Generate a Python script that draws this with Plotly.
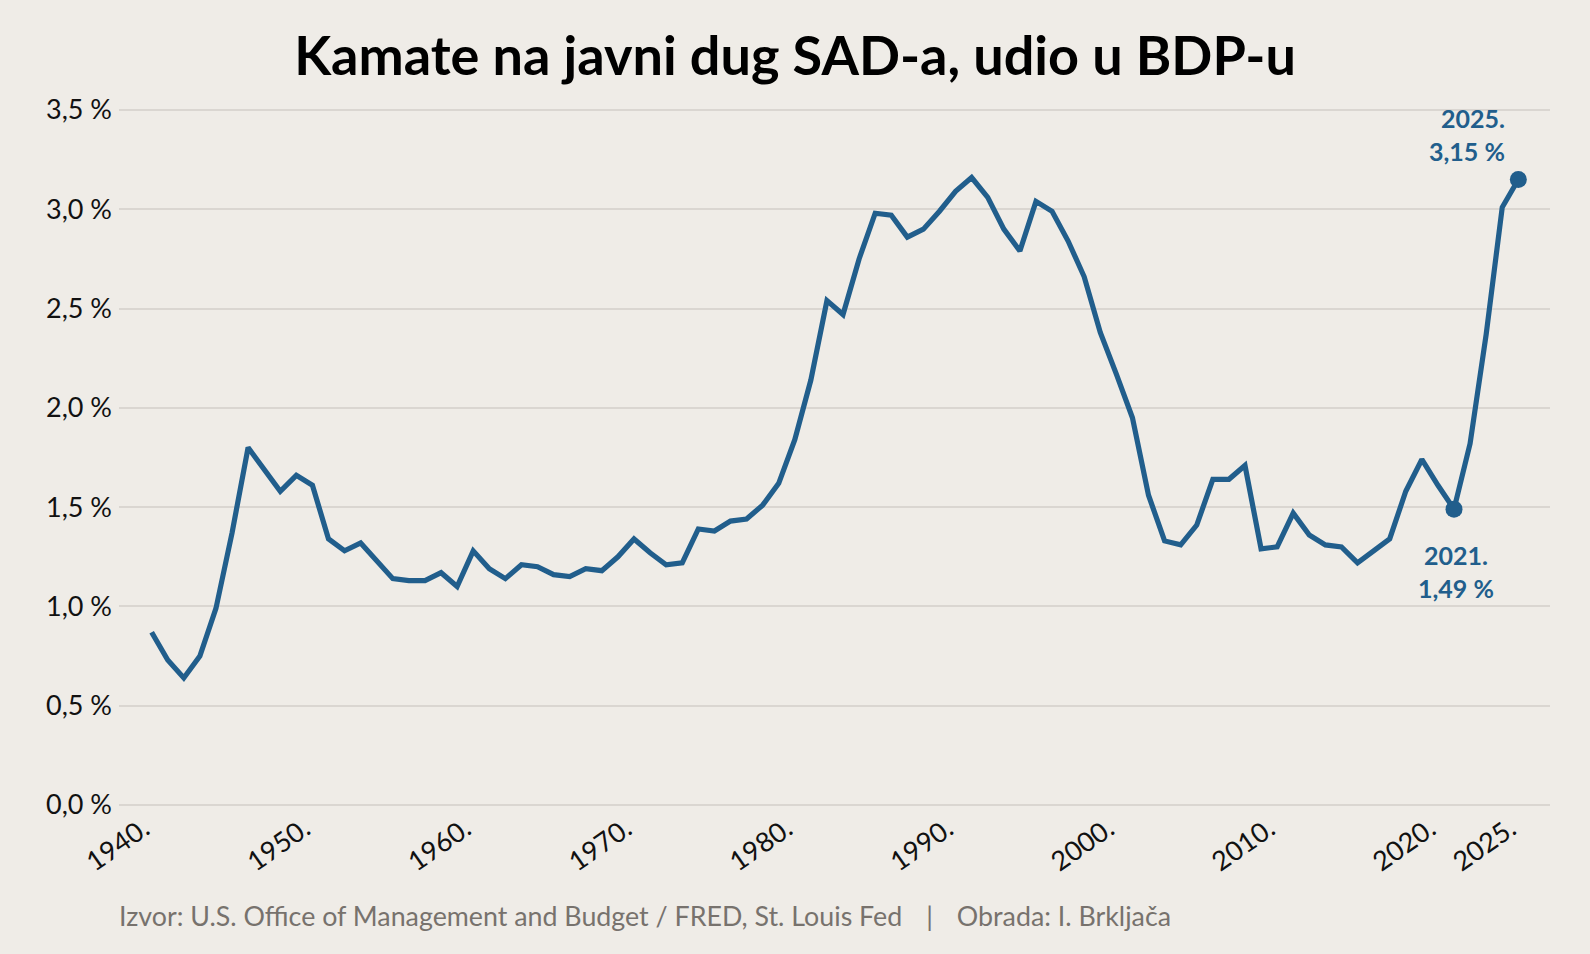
import plotly.graph_objects as go

years = list(range(1940, 2026))
interest_pct_gdp = [
    0.87, 0.73, 0.64, 0.75, 0.99, 1.37, 1.80, 1.69, 1.58, 1.66,
    1.61, 1.34, 1.28, 1.32, 1.23, 1.14, 1.13, 1.13, 1.17, 1.10,
    1.28, 1.19, 1.14, 1.21, 1.20, 1.16, 1.15, 1.19, 1.18, 1.25,
    1.34, 1.27, 1.21, 1.22, 1.39, 1.38, 1.43, 1.44, 1.51, 1.62,
    1.84, 2.14, 2.54, 2.47, 2.75, 2.98, 2.97, 2.86, 2.90, 2.99,
    3.09, 3.16, 3.06, 2.90, 2.79, 3.04, 2.99, 2.84, 2.66, 2.38,
    2.17, 1.95, 1.56, 1.33, 1.31, 1.41, 1.64, 1.64, 1.71, 1.29,
    1.30, 1.47, 1.36, 1.31, 1.30, 1.22, 1.28, 1.34, 1.58, 1.74,
    1.61, 1.49, 1.82, 2.37, 3.01, 3.15,
]

highlight_years = [2021, 2025]
highlight_values = [1.49, 3.15]
highlight_labels = ["2021.<br>1,49 %", "2025.<br>3,15 %"]

y_tickvals = [0, 0.5, 1.0, 1.5, 2.0, 2.5, 3.0, 3.5]
y_ticktext = ["0,0 %", "0,5 %", "1,0 %", "1,5 %", "2,0 %", "2,5 %", "3,0 %", "3,5 %"]
x_tickvals = [1940, 1950, 1960, 1970, 1980, 1990, 2000, 2010, 2020, 2025]
x_ticktext = ["1940.", "1950.", "1960.", "1970.", "1980.", "1990.", "2000.", "2010.", "2020.", "2025."]

title_text = "Kamate na javni dug SAD-a, udio u BDP-u"
source_text = ("Izvor: U.S. Office of Management and Budget / FRED, St. Louis Fed"
               "\u00a0\u00a0\u00a0\u2009|\u00a0\u00a0\u00a0\u2009Obrada: I. Brkljača")

BLUE = "#215e8c"
BG = "#efece7"
GRID = "#dad6d1"

fig = go.Figure()
fig.add_trace(go.Scatter(
    x=years, y=interest_pct_gdp, mode="lines",
    line=dict(color=BLUE, width=5.2),
    hoverinfo="skip", showlegend=False,
))
fig.add_trace(go.Scatter(
    x=highlight_years, y=highlight_values, mode="markers",
    marker=dict(color=BLUE, size=17),
    hoverinfo="skip", showlegend=False, cliponaxis=False,
))

fig.add_annotation(
    x=highlight_years[1], y=highlight_values[1], text=highlight_labels[1],
    xanchor="right", yanchor="bottom", align="right", showarrow=False,
    xshift=-11, yshift=11,
    font=dict(family="Lato", size=25, color=BLUE, weight="bold"),
)
fig.add_annotation(
    x=highlight_years[0], y=highlight_values[0], text=highlight_labels[0],
    xanchor="center", yanchor="top", align="center", showarrow=False,
    xshift=2, yshift=-29,
    font=dict(family="Lato", size=25, color=BLUE, weight="bold"),
)
fig.add_annotation(
    x=0, y=-0.156, xref="paper", yref="paper", text=source_text,
    xanchor="left", yanchor="middle", showarrow=False, xshift=-2,
    font=dict(family="Lato", size=26.8, color="#77726d"),
)

fig.update_layout(
    width=1590, height=954,
    paper_bgcolor=BG, plot_bgcolor=BG,
    margin=dict(l=119, r=40, t=108, b=147),
    title=dict(
        text=title_text, x=0.5, xref="container", xanchor="center",
        y=1 - 56 / 954, yref="container", yanchor="middle",
        font=dict(family="Lato", size=54, color="#000000", weight="bold"),
    ),
    font=dict(family="Lato", color="#111111"),
)
fig.update_xaxes(
    range=[1937.97, 2026.97], tickvals=x_tickvals, ticktext=x_ticktext,
    tickangle=-35, showgrid=False, zeroline=False, showline=False,
    ticks="", ticklabelshift=-8,
    tickfont=dict(family="Lato", size=27, color="#111111"),
)
fig.update_yaxes(
    range=[-0.01, 3.51], tickvals=y_tickvals, ticktext=y_ticktext,
    showgrid=True, gridcolor=GRID, gridwidth=1.5, zeroline=False,
    showline=False, ticks="", ticklabelstandoff=6,
    tickfont=dict(family="Lato", size=27, color="#111111"),
)

fig.write_html("out.html", config={"displayModeBar": False},
               post_script="document.body.style.margin='0';")
